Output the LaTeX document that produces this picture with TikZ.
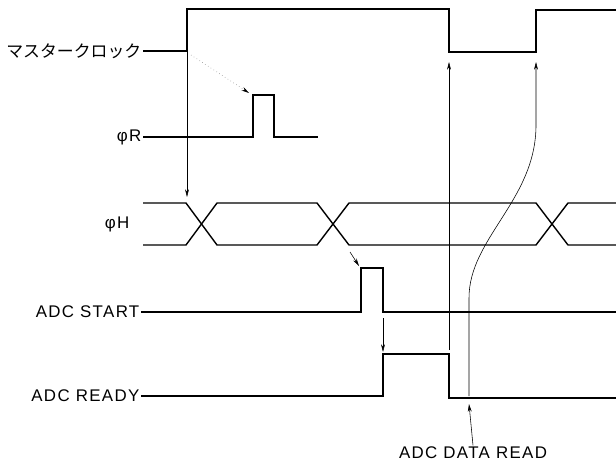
\documentclass[tikz,border=0pt]{standalone}
\usepackage{fontspec}
\setmainfont{Liberation Sans}[LetterSpace=8]
\newfontfamily\jpfont{Noto Sans CJK JP}
\usepackage{tikz}
\usetikzlibrary{arrows.meta}

\begin{document}
\begin{tikzpicture}[x=0.025cm, y=-0.025cm,
    sig/.style={line width=1pt, line join=miter},
    lbl/.style={anchor=east, inner sep=1pt, font=\fontsize{12}{14}\selectfont},
    arr/.style={-{Stealth[length=5.5pt, width=2.8pt, black]}, line width=0.4pt}
]
\useasboundingbox (0,0) rectangle (616,466);
\node[lbl] (mclk)  at (143,51)  {\jpfont マスタークロック};
\node[lbl] (phir)  at (143,137) {φR};
\node[lbl] (phih)  at (131,224) {φH};
\node[lbl] (start) at (141,312) {ADC START};
\node[lbl] (ready) at (141,396) {ADC READY};
\node[inner sep=1pt, font=\fontsize{12}{14}\selectfont] (read) at (473,453) {ADC DATA READ};
\coordinate (clkup)   at (187,51);
\coordinate (clkdn)   at (449,62);
\coordinate (clkup2)  at (536,62);
\coordinate (rtop)    at (249,93);
\coordinate (hx1)     at (187,197);
\coordinate (hx2)     at (350,252);
\coordinate (stop)    at (359,266);
\coordinate (sfall)   at (383,318);
\coordinate (rrise)   at (383,352);
\coordinate (rfall)   at (449,350);
\coordinate (rlow)    at (469,404);
\coordinate (rlow2)   at (469,396);
\draw[sig] (mclk.east) -- (187,51) -- (187,9) -- (449,9) -- (449,52) -- (536,52) -- (536,10) -- (616,10);
\draw[sig] (phir.east) -- (253,137) -- (253,95) -- (274,95) -- (274,137) -- (318,137);
\draw[sig] (143,203) -- (186,203) -- (217,245) -- (317,245) -- (349,203) -- (536,203) -- (568,245) -- (616,245);
\draw[sig] (143,245) -- (186,245) -- (217,203) -- (317,203) -- (349,245) -- (536,245) -- (568,203) -- (616,203);
\draw[sig] (start.east) -- (361,312) -- (361,268) -- (383,268) -- (383,312) -- (616,312);
\draw[sig] (ready.east) -- (383,396) -- (383,354) -- (449,354) -- (449,398) -- (616,398);
\draw[arr] (clkup) -- (hx1);
\draw[arr, dotted, gray] ([shift={(4,4)}]clkup) -- (rtop);
\draw[arr] (hx2) -- (stop);
\draw[arr] (sfall) -- (rrise);
\draw[arr] (rfall) -- (clkdn);
\draw[arr] (rlow2) -- (469,298) .. controls (469,238) and (536,200) .. (536,125) -- (clkup2);
\draw[arr] (read.north) -- (rlow);
\end{tikzpicture}
\end{document}
